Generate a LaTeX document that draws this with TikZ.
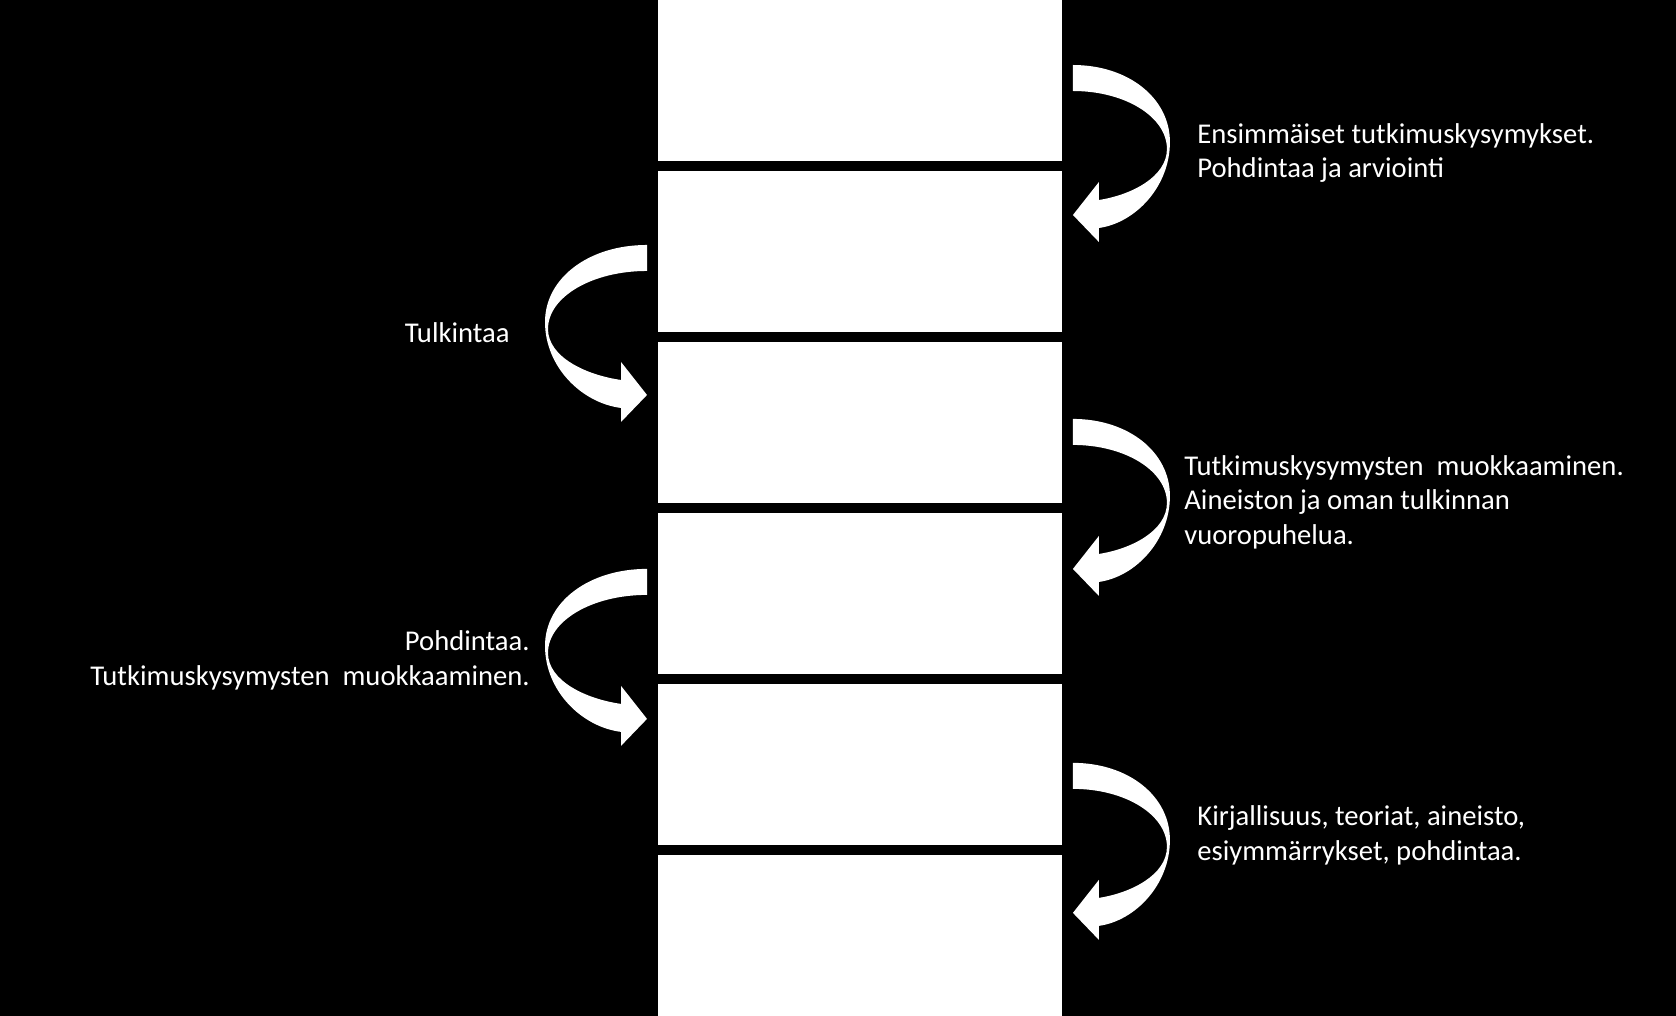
\documentclass[tikz,border=0pt]{standalone}
\usepackage{fontspec}
\setmainfont{Carlito}
\usetikzlibrary{positioning,calc}
\tikzset{
  stepbox/.style={fill=white, minimum width=8.08cm, minimum height=3.22cm, inner sep=0pt, outer sep=0pt},
  bendarrow/.style={fill=white},
  note/.style={text=white, font=\fontsize{16.3}{19.5}\selectfont, inner sep=0pt},
}

\begin{document}
\begin{tikzpicture}[x=0.02cm,y=-0.02cm,node distance=0.2cm]
  \fill[black] (0,0) rectangle (1676,1016);
  \useasboundingbox (0,0) rectangle (1676,1016);
  \node[stepbox,anchor=north west] (b1) at (658,0) {};
  \foreach \i [count=\j] in {2,...,6} \node[stepbox,below=of b\j] (b\i) {};
  % curved arrows beside the column
  \foreach \b/\a/\dx/\dy/\s/\w in {b1/north east/11/65/1/97, b3/north east/11/77/1/97,
      b5/north east/11/79/1/97, b2/north west/-11/74/-1/102, b4/north west/-11/56/-1/102}
    \fill[bendarrow, shift={($(\b.\a)+(\dx,\dy)$)}, xscale=\s]
      (0,0) .. controls ({0.57*\w},0) and (\w,33) .. (\w,77)
      .. controls (\w,122) and ({0.64*\w},158) .. (26,163)
      -- (26,177) -- (0,150) -- (26,117) -- (26,135)
      .. controls ({0.6*\w},130) and ({\w-3},112) .. ({\w-3},84)
      .. controls ({\w-3},52) and ({0.54*\w},26) .. (0,26) -- cycle;
  % base anchor sits on the last line
  \node[note,anchor=base west,align=left] (t1) at (1197,178)
    {Ensimmäiset tutkimuskysymykset.\\Pohdintaa ja arviointi};
  \node[note,anchor=base east,align=right] (t2) at (510,343) {Tulkintaa};
  \node[note,anchor=base west,align=left] (t3) at (1184,544)
    {Tutkimuskysymysten\ \ muokkaaminen.\\Aineiston ja oman tulkinnan\\vuoropuhelua.};
  \node[note,anchor=base east,align=right] (t4) at (530,685)
    {Pohdintaa.\\Tutkimuskysymysten\ \ muokkaaminen.};
  \node[note,anchor=base west,align=left] (t5) at (1197,860)
    {Kirjallisuus, teoriat, aineisto,\\esiymmärrykset, pohdintaa.};
\end{tikzpicture}
\end{document}
